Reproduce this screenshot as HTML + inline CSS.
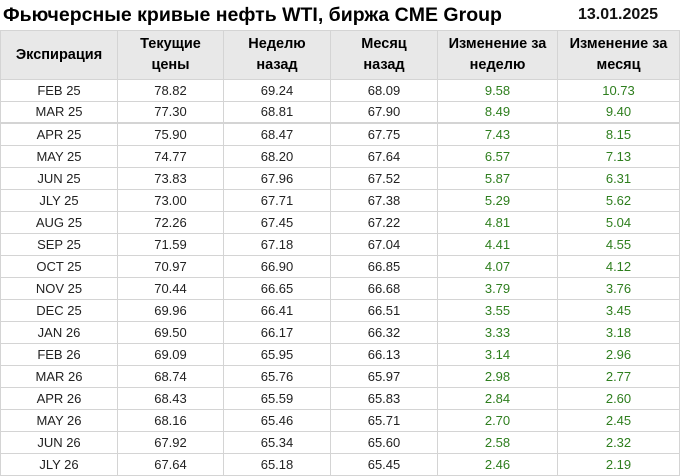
<!DOCTYPE html>
<html><head><meta charset="utf-8"><style>
body{margin:0;width:680px;height:476px;overflow:hidden;background:#fff;font-family:"Liberation Sans",Arial,sans-serif;position:relative}
.t{position:absolute;left:3px;top:4px;font-size:19.5px;font-weight:bold;color:#000}
.d{position:absolute;left:578px;top:6px;font-size:16px;font-weight:bold;color:#111}
table{position:absolute;left:0;top:30px;border-collapse:separate;border-spacing:1px;background:#d4d4d4}
td{background:#fff;text-align:center;font-size:13px;color:#222;height:21px;padding:0;line-height:21px}
th{background:#e8e8e8;font-size:14.5px;font-weight:bold;color:#000;height:48px;padding:0;line-height:21px}
td.g{color:#2e7e1e}
tr.m td{height:20px;border-bottom:1px solid #d4d4d4;line-height:20px}
</style></head><body>
<div class="t">Фьючерсные кривые нефть WTI, биржа CME Group</div>
<div class="d">13.01.2025</div>
<table>
<colgroup><col style="width:116px"><col style="width:105px"><col style="width:106px"><col style="width:106px"><col style="width:119px"><col style="width:121px"></colgroup>
<tr><th>Экспирация</th><th>Текущие<br>цены</th><th>Неделю<br>назад</th><th>Месяц<br>назад</th><th>Изменение за<br>неделю</th><th>Изменение за<br>месяц</th></tr>
<tr><td>FEB 25</td><td>78.82</td><td>69.24</td><td>68.09</td><td class="g">9.58</td><td class="g">10.73</td></tr>
<tr class="m"><td>MAR 25</td><td>77.30</td><td>68.81</td><td>67.90</td><td class="g">8.49</td><td class="g">9.40</td></tr>
<tr><td>APR 25</td><td>75.90</td><td>68.47</td><td>67.75</td><td class="g">7.43</td><td class="g">8.15</td></tr>
<tr><td>MAY 25</td><td>74.77</td><td>68.20</td><td>67.64</td><td class="g">6.57</td><td class="g">7.13</td></tr>
<tr><td>JUN 25</td><td>73.83</td><td>67.96</td><td>67.52</td><td class="g">5.87</td><td class="g">6.31</td></tr>
<tr><td>JLY 25</td><td>73.00</td><td>67.71</td><td>67.38</td><td class="g">5.29</td><td class="g">5.62</td></tr>
<tr><td>AUG 25</td><td>72.26</td><td>67.45</td><td>67.22</td><td class="g">4.81</td><td class="g">5.04</td></tr>
<tr><td>SEP 25</td><td>71.59</td><td>67.18</td><td>67.04</td><td class="g">4.41</td><td class="g">4.55</td></tr>
<tr><td>OCT 25</td><td>70.97</td><td>66.90</td><td>66.85</td><td class="g">4.07</td><td class="g">4.12</td></tr>
<tr><td>NOV 25</td><td>70.44</td><td>66.65</td><td>66.68</td><td class="g">3.79</td><td class="g">3.76</td></tr>
<tr><td>DEC 25</td><td>69.96</td><td>66.41</td><td>66.51</td><td class="g">3.55</td><td class="g">3.45</td></tr>
<tr><td>JAN 26</td><td>69.50</td><td>66.17</td><td>66.32</td><td class="g">3.33</td><td class="g">3.18</td></tr>
<tr><td>FEB 26</td><td>69.09</td><td>65.95</td><td>66.13</td><td class="g">3.14</td><td class="g">2.96</td></tr>
<tr><td>MAR 26</td><td>68.74</td><td>65.76</td><td>65.97</td><td class="g">2.98</td><td class="g">2.77</td></tr>
<tr><td>APR 26</td><td>68.43</td><td>65.59</td><td>65.83</td><td class="g">2.84</td><td class="g">2.60</td></tr>
<tr><td>MAY 26</td><td>68.16</td><td>65.46</td><td>65.71</td><td class="g">2.70</td><td class="g">2.45</td></tr>
<tr><td>JUN 26</td><td>67.92</td><td>65.34</td><td>65.60</td><td class="g">2.58</td><td class="g">2.32</td></tr>
<tr><td>JLY 26</td><td>67.64</td><td>65.18</td><td>65.45</td><td class="g">2.46</td><td class="g">2.19</td></tr>
</table>
</body></html>
